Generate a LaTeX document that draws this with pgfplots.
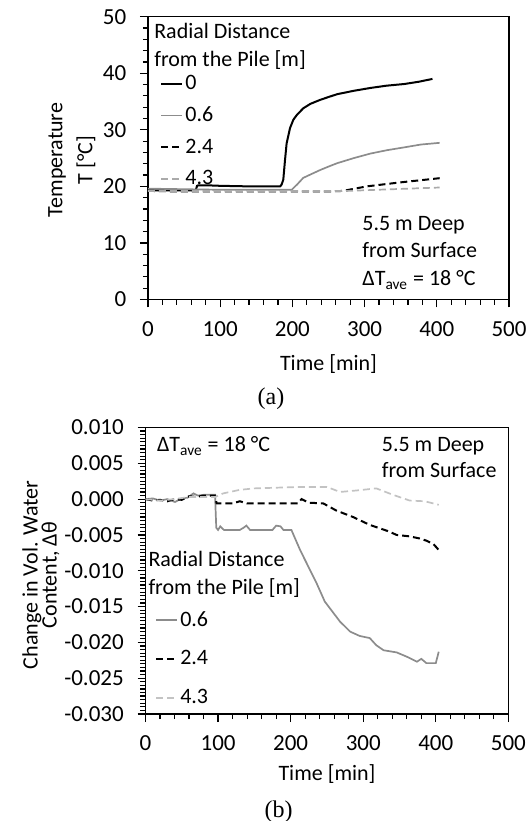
\documentclass[border=0pt]{standalone}
\usepackage{fontspec}
\setmainfont{Carlito}
\newfontfamily\serifcap{Liberation Serif}
\usepackage{pgfplots}
\pgfplotsset{compat=1.18}
\definecolor{midgray}{RGB}{140,140,140}
\definecolor{ltgrayA}{RGB}{170,170,170}
\definecolor{ltgrayB}{RGB}{195,195,195}
\pgfplotsset{
  myaxis/.style={
    scale only axis, anchor=south west,
    axis line style={line width=0.75pt},
    tick align=outside, tick pos=left,
    major tick length=4pt, minor tick length=2.6pt,
    every tick/.style={black, line width=0.6pt},
    xmin=0, xmax=500, xtick={0,100,200,300,400,500}, minor x tick num=4,
    /pgf/number format/assume math mode=true,
    tick label style={font=\fontsize{11.5pt}{13pt}\selectfont},
    yticklabel style={xshift=-3pt},
    xticklabel style={yshift=-3pt},
    legend cell align=left,
    legend image code/.code={\draw[##1] (0pt,0pt) -- (10.5pt,0pt);},
  },
  blk/.style={black, line width=1pt},
  gry/.style={midgray, line width=0.85pt},
  blkd/.style={black, line width=1pt, dash pattern=on 3.5pt off 2pt},
}
\begin{document}
\fontsize{11pt}{13.5pt}\selectfont
\begin{tikzpicture}
\useasboundingbox (0,0) rectangle (264pt,410.5pt);
% ---------------- panel (a)
\begin{axis}[myaxis,
  at={(74pt,260.75pt)}, width=180.5pt, height=141.4pt,
  ymin=0, ymax=50, ytick={0,10,20,30,40,50}, minor y tick num=4,
  legend style={draw=none, fill=none, at={(axis description cs:0.0332,0.7992)}, anchor=north west,
    inner sep=0pt, row sep=5.85pt, column sep=1pt,
    nodes={inner sep=0pt, text height=8pt, text depth=2pt, anchor=west,
      font=\fontsize{11pt}{13pt}\selectfont}},
]
\addplot[blk] coordinates {(0,19.3) (20,19.3) (40,19.3) (66,19.3) (68,20.1) (70,20.2) (80,20.2) (100,20.1) (120,20.05) (140,20.0) (160,20.0) (183,20.0) (185,20.3) (187.4,21.2) (189.8,24.7) (192,27.6) (196.7,30.3) (201.4,31.8) (206,32.6) (215,33.8) (225,34.6) (238.6,35.3) (250,35.8) (262,36.3) (285,36.9) (308,37.4) (330,37.8) (355,38.1) (375,38.5) (394,39.0)};
\addlegendentry{0}
\addplot[gry] coordinates {(0,19.6) (50,19.5) (100,19.4) (150,19.4) (199,19.4) (207,20.4) (215,21.5) (225,22.1) (238.6,22.9) (250,23.5) (262,24.1) (285,25.0) (308,25.8) (331,26.4) (355,26.9) (378,27.4) (404,27.7)};
\addlegendentry{0.6}
\addplot[blkd] coordinates {(0,19.2) (50,19.1) (100,19.1) (150,19.1) (200,19.1) (250,19.1) (270,19.2) (303,20.0) (349,20.7) (404,21.45)};
\addlegendentry{2.4}
\addplot[ltgrayA, line width=0.85pt, dash pattern=on 3.5pt off 2pt] coordinates {(0,19.2) (100,19.2) (200,19.2) (277,19.2) (318,19.4) (360,19.6) (404,19.8)};
\addlegendentry{4.3}
\end{axis}
\node[anchor=base west, inner sep=0pt] at (76.95pt,391.25pt) {Radial Distance};
\node[anchor=base west, inner sep=0pt] at (76.95pt,377.25pt) {from the Pile [m]};
\node[anchor=base west, inner sep=0pt] at (181pt,295.25pt) {5.5 m Deep};
\node[anchor=base west, inner sep=0pt] at (181pt,281.85pt) {from Surface};
\node[anchor=base west, inner sep=0pt] at (181pt,267.5pt) {ΔT\textsubscript{ave} = 18 °C};
\node[rotate=90, inner sep=0pt] at (28.6pt,330.5pt) {Temperature};
\node[rotate=90, inner sep=0pt] at (42.95pt,330.5pt) {T [°C]};
\node[inner sep=0pt] at (164.25pt,228.7pt) {Time [min]};
\node[inner sep=0pt, font=\serifcap\fontsize{12pt}{14pt}\selectfont] at (135.5pt,211pt) {(a)};
% ---------------- panel (b)
\begin{axis}[myaxis,
  at={(72.75pt,53.5pt)}, width=181.45pt, height=143.25pt,
  ymin=-0.03, ymax=0.01, scaled y ticks=false,
  ytick={-0.03,-0.025,-0.02,-0.015,-0.01,-0.005,0,0.005,0.01},
  yticklabels={-0.030,-0.025,-0.020,-0.015,-0.010,-0.005,0.000,0.005,0.010},
  minor y tick num=9,
  legend style={draw=none, fill=none, at={(axis description cs:0.0259,0.3634)}, anchor=north west,
    inner sep=0pt, row sep=9.35pt, column sep=1pt,
    nodes={inner sep=0pt, text height=8pt, text depth=2pt, anchor=west,
      font=\fontsize{11pt}{13pt}\selectfont}},
]
\addplot[gry] coordinates {(0,0) (10,0.0001) (20,-0.0002) (30,0) (40.6,-0.0004) (50,0.0001) (58,0.0002) (66,0.0008) (72,0.0005) (80,0.0006) (95.8,0.0006) (97.5,-0.0040) (100,-0.0043) (103,-0.0038) (108,-0.0043) (130,-0.0043) (135,-0.0040) (139,-0.0037) (144,-0.0043) (175,-0.0043) (180,-0.0037) (186,-0.0038) (190,-0.0043) (201,-0.0043) (213,-0.0071) (236,-0.0118) (247,-0.0143) (259,-0.0159) (268,-0.0171) (282,-0.0185) (295,-0.0191) (309,-0.0194) (318,-0.0204) (328,-0.0211) (346,-0.0214) (360,-0.0220) (374,-0.0227) (380,-0.0223) (387,-0.0229) (400,-0.0229) (404,-0.0213)};
\addlegendentry{0.6}
\addplot[blkd] coordinates {(0,0) (10,-0.0002) (20,-0.0001) (30,-0.0003) (40,0) (50,-0.0001) (60,0.0004) (70,0.0003) (80,0.0005) (96,0.0005) (98,-0.0006) (120,-0.0006) (130,-0.0003) (140,-0.0006) (180,-0.0006) (210,-0.0006) (215,0) (225,-0.0005) (245,-0.0006) (263,-0.0016) (286,-0.0025) (309,-0.0036) (335,-0.0045) (346,-0.0050) (364,-0.0052) (378,-0.0055) (387,-0.0058) (397,-0.0063) (404,-0.0071)};
\addlegendentry{2.4}
\addplot[ltgrayB, line width=0.85pt, dash pattern=on 3.5pt off 2pt] coordinates {(0,0) (20,-0.0002) (40,0) (60,0.0003) (80,0.0003) (96,0.0003) (107,0.0008) (130,0.0013) (150,0.0015) (213,0.0017) (250,0.0017) (268,0.0010) (290,0.0012) (318,0.0015) (341,0.0006) (364,-0.0002) (385,-0.0003) (404,-0.0008)};
\addlegendentry{4.3}
\end{axis}
\node[anchor=base west, inner sep=0pt] at (74.05pt,127.25pt) {Radial Distance};
\node[anchor=base west, inner sep=0pt] at (74.05pt,113pt) {from the Pile [m]};
\node[anchor=base west, inner sep=0pt] at (78.3pt,184.5pt) {ΔT\textsubscript{ave} = 18 °C};
\node[anchor=base west, inner sep=0pt] at (190.75pt,184.5pt) {5.5 m Deep};
\node[anchor=base west, inner sep=0pt] at (190.75pt,171.55pt) {from Surface};
\node[rotate=90, inner sep=0pt] at (16pt,123pt) {Change in Vol. Water};
\node[rotate=90, inner sep=0pt] at (25.25pt,123pt) {Content, Δθ};
\node[inner sep=0pt] at (163.5pt,23.65pt) {Time [min]};
\node[inner sep=0pt, font=\serifcap\fontsize{12pt}{14pt}\selectfont] at (139.25pt,4.5pt) {(b)};
\end{tikzpicture}
\end{document}
